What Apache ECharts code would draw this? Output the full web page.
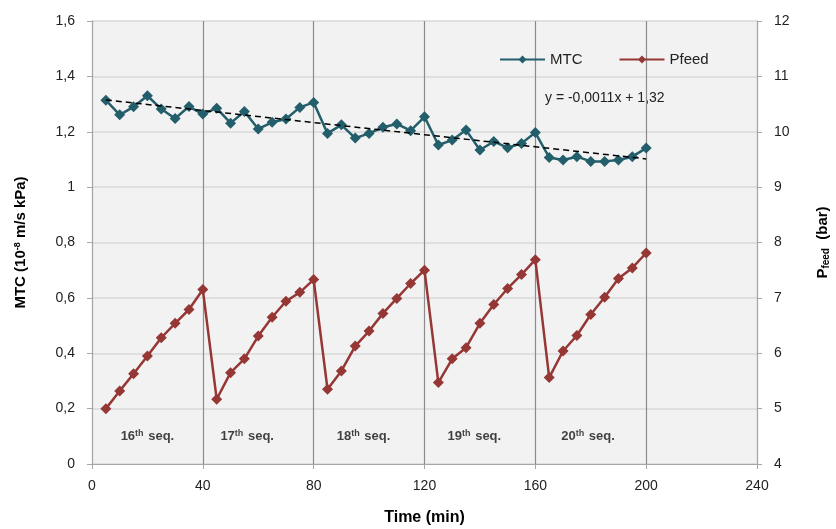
<!DOCTYPE html>
<html>
<head>
<meta charset="utf-8">
<script src="https://cdn.jsdelivr.net/npm/echarts@6/dist/echarts.min.js"></script>
<style>html,body{margin:0;padding:0;background:#fff}#c{width:836px;height:529px}</style>
</head>
<body>
<div id="c"></div>
<script>
const timeMin = [5,10,15,20,25,30,35,40,45,50,55,60,65,70,75,80,85,90,95,100,105,110,115,120,125,130,135,140,145,150,155,160,165,170,175,180,185,190,195,200];
const mtc = [1.314,1.261,1.290,1.330,1.282,1.248,1.291,1.264,1.285,1.231,1.273,1.210,1.234,1.246,1.288,1.306,1.194,1.225,1.177,1.194,1.216,1.228,1.204,1.254,1.152,1.170,1.206,1.134,1.165,1.142,1.158,1.197,1.107,1.098,1.110,1.093,1.093,1.098,1.110,1.141];
const pfeed = [5.00,5.32,5.63,5.95,6.28,6.54,6.79,7.15,5.17,5.65,5.90,6.31,6.65,6.94,7.10,7.33,5.35,5.68,6.13,6.40,6.72,6.99,7.26,7.50,5.47,5.90,6.10,6.54,6.88,7.17,7.42,7.69,5.56,6.04,6.32,6.70,7.01,7.35,7.54,7.81];
const trendX = [5,200];
const trendY = [1.315,1.102];
const seqLabels = ['16','17','18','19','20'];
const seqX = [20,56,98,138,179];
const seqY = 0.1;
const xTicks = [0,40,80,120,160,200,240];

const FONT = 'Liberation Sans';
const chart = echarts.init(document.getElementById('c'));
const fmt = v => String(Math.round(v*10)/10).replace('.', ',');

chart.setOption({
  animation: false,
  textStyle: {fontFamily: FONT},
  grid: {left: 92, right: 79, top: 21, bottom: 65, show: true, backgroundColor: '#f2f2f2', borderWidth: 0, outerBoundsMode: 'none', containLabel: false},
  legend: {
    left: 494, top: 47, itemWidth: 45, itemHeight: 10, itemGap: 36,
    textStyle: {fontFamily: FONT, fontSize: 15, color: '#222'},
    data: ['MTC', 'Pfeed']
  },
  xAxis: {
    type: 'value', min: xTicks[0], max: xTicks[xTicks.length-1], interval: 40,
    name: 'Time (min)', nameLocation: 'middle', nameGap: 46,
    nameTextStyle: {fontFamily: FONT, fontSize: 16, fontWeight: 'bold', color: '#000'},
    axisLine: {show: true, lineStyle: {color: '#a6a6a6', width: 1}},
    axisTick: {show: true, length: 5, lineStyle: {color: '#a6a6a6'}},
    axisLabel: {margin: 15, fontSize: 14, color: '#222', fontFamily: FONT},
    splitLine: {show: true, lineStyle: {color: '#8c8c8c', width: 1.2}}
  },
  yAxis: [{
    type: 'value', min: 0, max: 1.6, interval: 0.2, position: 'left',
    name: '{b|MTC (10}{s|-8}{b| m/s kPa)}', nameLocation: 'middle', nameGap: 64, nameRotate: 90,
    nameTextStyle: {rich: {
      b: {fontFamily: FONT, fontSize: 15, fontWeight: 'bold', color: '#000'},
      s: {fontFamily: FONT, fontSize: 9, fontWeight: 'bold', color: '#000', verticalAlign: 'top', padding: [0,0,6,0]}
    }},
    axisLine: {show: true, lineStyle: {color: '#a6a6a6', width: 1}},
    axisTick: {show: true, length: 5, lineStyle: {color: '#a6a6a6'}},
    axisLabel: {margin: 17, fontSize: 14, color: '#222', fontFamily: FONT, formatter: fmt},
    splitLine: {show: true, lineStyle: {color: '#d9d9d9', width: 1.5}}
  }, {
    type: 'value', min: 4, max: 12, interval: 1, position: 'right',
    name: '{b|P}{s|feed}{b|  (bar)}', nameLocation: 'middle', nameGap: 58, nameRotate: 90,
    nameTextStyle: {rich: {
      b: {fontFamily: FONT, fontSize: 15, fontWeight: 'bold', color: '#000'},
      s: {fontFamily: FONT, fontSize: 10, fontWeight: 'bold', color: '#000', verticalAlign: 'bottom', padding: [6,0,0,0]}
    }},
    axisLine: {show: true, lineStyle: {color: '#a6a6a6', width: 1}},
    axisTick: {show: true, length: 5, lineStyle: {color: '#a6a6a6'}},
    axisLabel: {margin: 17, fontSize: 14, color: '#222', fontFamily: FONT},
    splitLine: {show: false}
  }],
  series: [{
    name: 'MTC', type: 'line', yAxisIndex: 0,
    data: timeMin.map((t,i) => [t, mtc[i]]),
    symbol: 'diamond', symbolSize: 11, showAllSymbol: true,
    itemStyle: {color: '#235e6b'}, lineStyle: {color: '#235e6b', width: 2.5}, z: 3
  }, {
    name: 'Pfeed', type: 'line', yAxisIndex: 1,
    data: timeMin.map((t,i) => [t, pfeed[i]]),
    symbol: 'diamond', symbolSize: 11, showAllSymbol: true,
    itemStyle: {color: '#953735'}, lineStyle: {color: '#953735', width: 2.5}, z: 3
  }, {
    name: 'trend', type: 'line', yAxisIndex: 0,
    data: trendX.map((t,i) => [t, trendY[i]]),
    symbol: 'none', lineStyle: {color: '#000', width: 1.5, type: [6,4]}, z: 4, silent: true
  }, {
    name: 'seq', type: 'scatter', yAxisIndex: 0, symbolSize: 0, silent: true,
    data: seqX.map((x,i) => ({value: [x, seqY], label: {formatter: '{b|' + seqLabels[i] + '}{s|th}{b| seq.}'}})),
    label: {show: true, position: 'inside', rich: {
      b: {fontFamily: FONT, fontSize: 13, fontWeight: 'bold', color: '#111'},
      s: {fontFamily: FONT, fontSize: 9, fontWeight: 'bold', color: '#111', verticalAlign: 'top', padding: [0,1,5,0]}
    }}
  }],
  graphic: [{
    type: 'text', left: 545, top: 91,
    style: {text: 'y = -0,0011x + 1,32', fontFamily: FONT, fontSize: 14, fill: '#222'}
  }]
});
</script>
</body>
</html>
